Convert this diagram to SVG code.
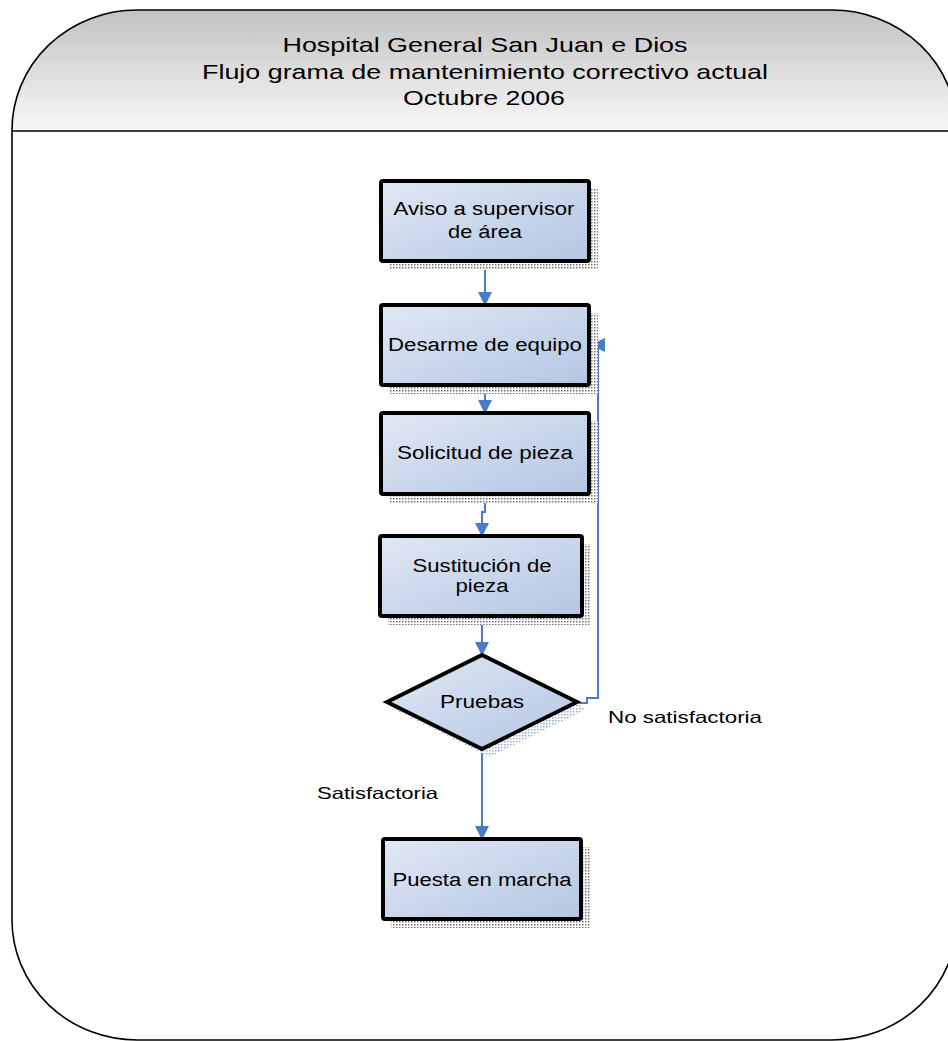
<svg xmlns="http://www.w3.org/2000/svg" width="948" height="1041" viewBox="0 0 948 1041">
  <style>
    .title { font-family: "Liberation Sans", Arial, sans-serif; font-size: 21px; fill: #000; text-anchor: middle; }
    .label { font-family: "Liberation Sans", Arial, sans-serif; font-size: 18px; fill: #000; text-anchor: middle; }
    .edge-label { font-family: "Liberation Sans", Arial, sans-serif; font-size: 16.5px; fill: #000; }
    .box { fill: url(#boxFill); stroke: #000; stroke-width: 4; }
    .shadow { fill: url(#dots); }
    .conn { fill: none; stroke: #4a7cc7; stroke-width: 2; }
    .head { fill: #4a7cc7; }
  </style>
  <defs>
    <linearGradient id="headFill" gradientUnits="userSpaceOnUse" x1="0" y1="10" x2="0" y2="131">
      <stop offset="0" stop-color="#c2c2c2"/>
      <stop offset="1" stop-color="#f8f8f8"/>
    </linearGradient>
    <linearGradient id="boxFill" x1="0" y1="0" x2="1" y2="1">
      <stop offset="0" stop-color="#e1e8f4"/>
      <stop offset="1" stop-color="#b3c6e2"/>
    </linearGradient>
    <pattern id="dots" width="3" height="3" patternUnits="userSpaceOnUse">
      <rect width="3" height="3" fill="#ffffff"/>
      <rect width="1.5" height="1.5" fill="#6f6f6f"/>
    </pattern>
    <pattern id="dotsBlue" width="3" height="3" patternUnits="userSpaceOnUse">
      <rect width="3" height="3" fill="#ffffff"/>
      <rect width="1.5" height="1.5" fill="#8fa9d6"/>
    </pattern>
    <clipPath id="headClip">
      <rect x="0" y="0" width="960" height="131"/>
    </clipPath>
    <marker id="arrow" viewBox="0 0 14 14" refX="13" refY="7" markerWidth="14" markerHeight="14" markerUnits="userSpaceOnUse" orient="auto">
      <path d="M0,0 L14,7 L0,14 Z" class="head"/>
    </marker>
  </defs>

  <!-- outer frame with header band -->
  <g id="frame">
    <rect x="12" y="10" width="945" height="1030" rx="125" ry="120" fill="#ffffff"/>
    <rect x="12" y="10" width="945" height="1030" rx="125" ry="120" fill="url(#headFill)" clip-path="url(#headClip)"/>
    <rect x="12" y="10" width="945" height="1030" rx="125" ry="120" fill="none" stroke="#000" stroke-width="1.6"/>
    <line x1="12" y1="131" x2="948" y2="131" stroke="#000" stroke-width="1.6"/>
    <text class="title" x="485" y="52" textLength="405" lengthAdjust="spacingAndGlyphs">Hospital General San Juan e Dios</text>
    <text class="title" x="485" y="79" textLength="566" lengthAdjust="spacingAndGlyphs">Flujo grama de mantenimiento correctivo actual</text>
    <text class="title" x="484" y="105" textLength="162" lengthAdjust="spacingAndGlyphs">Octubre 2006</text>
  </g>

  <!-- connectors -->
  <g id="connectors">
    <path class="conn" d="M485,261 V305" marker-end="url(#arrow)"/>
    <path class="conn" d="M485,385 V413" marker-end="url(#arrow)"/>
    <path class="conn" d="M485,494 V512 H482 V536" marker-end="url(#arrow)"/>
    <path class="conn" d="M482,616 V655" marker-end="url(#arrow)"/>
    <path class="conn" d="M482,749 V839" marker-end="url(#arrow)"/>
    <path class="conn" d="M577,703 H587 V698 H598 V345 H592"/>
    <path class="head" d="M590,345 L605,338 L605,352 Z"/>
    <text class="edge-label" x="608" y="723" textLength="154" lengthAdjust="spacingAndGlyphs">No satisfactoria</text>
    <text class="edge-label" x="317" y="799" textLength="121" lengthAdjust="spacingAndGlyphs">Satisfactoria</text>
  </g>

  <g id="aviso">
    <path class="shadow" d="M589,189 H598 V270 H389 V261 H589 Z"/>
    <rect class="box" x="381" y="181" width="208" height="80" rx="2"/>
    <text class="label" x="484" y="215" textLength="181" lengthAdjust="spacingAndGlyphs">Aviso a supervisor</text>
    <text class="label" x="485" y="238" textLength="74" lengthAdjust="spacingAndGlyphs">de área</text>
  </g>

  <g id="desarme">
    <path class="shadow" d="M589,313 H598 V394 H389 V385 H589 Z"/>
    <rect class="box" x="381" y="305" width="208" height="80" rx="2"/>
    <text class="label" x="485" y="351" textLength="194" lengthAdjust="spacingAndGlyphs">Desarme de equipo</text>
  </g>

  <g id="solicitud">
    <path class="shadow" d="M589,421 H598 V503 H389 V494 H589 Z"/>
    <rect class="box" x="381" y="413" width="208" height="81" rx="2"/>
    <text class="label" x="485" y="459" textLength="176" lengthAdjust="spacingAndGlyphs">Solicitud de pieza</text>
  </g>

  <g id="sustitucion">
    <path class="shadow" d="M582,544 H591 V625 H388 V616 H582 Z"/>
    <rect class="box" x="380" y="536" width="202" height="80" rx="2"/>
    <text class="label" x="482" y="572" textLength="139" lengthAdjust="spacingAndGlyphs">Sustitución de</text>
    <text class="label" x="482" y="592" textLength="53" lengthAdjust="spacingAndGlyphs">pieza</text>
  </g>

  <g id="pruebas">
    <path d="M395,710 L490,757 L585,710 L577,702 L482,749 L387,702 Z" fill="url(#dotsBlue)"/>
    <path class="box" d="M482,655 L577,702 L482,749 L387,702 Z" stroke-linejoin="miter"/>
    <text class="label" x="482" y="708" textLength="84" lengthAdjust="spacingAndGlyphs">Pruebas</text>
  </g>

  <g id="puesta">
    <path class="shadow" d="M581,847 H590 V928 H391 V919 H581 Z"/>
    <rect class="box" x="383" y="839" width="198" height="80" rx="2"/>
    <text class="label" x="482" y="886" textLength="179" lengthAdjust="spacingAndGlyphs">Puesta en marcha</text>
  </g>
</svg>
